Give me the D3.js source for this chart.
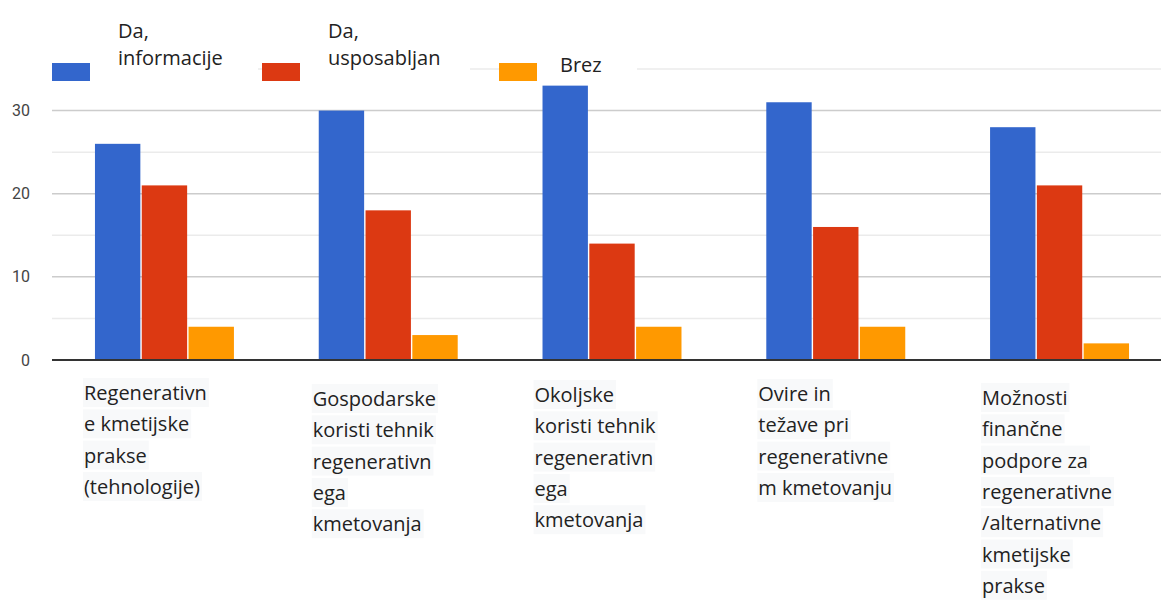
<!doctype html>
<html>
<head>
<meta charset="utf-8">
<title>Chart</title>
<script src="https://cdnjs.cloudflare.com/ajax/libs/d3/7.8.5/d3.min.js"></script>
<style>
    body { margin: 0; background: #fff; }
    svg text { font-family: "Open Sans", sans-serif; }
    .ytick { fill: #444; font-family: Roboto, Arial, sans-serif !important; font-size: 16px; }
    .xlab { fill: #222; font-size: 20px; }
    .leg { fill: #222; font-size: 20px; }
</style>
</head>
<body>
<div id="chart"></div>
<script>
// categories (multi-line tick labels)
var categories = ["Regenerativne kmetijske prakse", "Gospodarske koristi", "Okoljske koristi", "Ovire in težave", "Možnosti finančne podpore"];
var tickLines = [
    ["Regenerativn", "e kmetijske", "prakse", "(tehnologije)"],
    ["Gospodarske", "koristi tehnik", "regenerativn", "ega", "kmetovanja"],
    ["Okoljske", "koristi tehnik", "regenerativn", "ega", "kmetovanja"],
    ["Ovire in", "težave pri", "regenerativne", "m kmetovanju"],
    ["Možnosti", "finančne", "podpore za", "regenerativne", "/alternativne", "kmetijske", "prakse"]
];
var seriesNames = ["Da, informacije", "Da, usposabljan", "Brez"];
var legendLines = [["Da,", "informacije"], ["Da,", "usposabljan"], ["Brez"]];
var daInformacije = [26, 30, 33, 31, 28];
var daUsposabljan = [21, 18, 14, 16, 21];
var brez = [4, 3, 4, 4, 2];
var yTicks = [0, 10, 20, 30];
var yMinor = [5, 15, 25, 35];

var colors = ["#3366cc", "#dc3912", "#ff9900"];
var seriesValues = [daInformacije, daUsposabljan, brez];

var W = 1161, H = 601;
var svg = d3.select("#chart").append("svg").attr("width", W).attr("height", H);

var left = 52, right = 1161;
var y = d3.scaleLinear().domain([0, 35]).range([360, 69]);
var x = d3.scaleBand().domain(categories).range([left, 1172])
    .paddingInner(0.379).paddingOuter(0.192);
var xs = d3.scaleBand().domain(seriesNames).range([0, x.bandwidth()]).paddingInner(0.03);

// gridlines
svg.selectAll(".minor").data(yMinor).enter().append("line")
    .attr("x1", left).attr("x2", right)
    .attr("y1", function(d) { return y(d); }).attr("y2", function(d) { return y(d); })
    .attr("stroke", "#ebebeb").attr("stroke-width", 1.5);
svg.selectAll(".major").data(yTicks.slice(1)).enter().append("line")
    .attr("x1", left).attr("x2", right)
    .attr("y1", function(d) { return y(d); }).attr("y2", function(d) { return y(d); })
    .attr("stroke", "#cccccc").attr("stroke-width", 1.5);

// y labels
svg.selectAll(".ytick").data(yTicks).enter().append("text")
    .attr("class", "ytick")
    .attr("x", 30).attr("y", function(d) { return y(d); })
    .attr("text-anchor", "end").attr("dominant-baseline", "central")
    .text(function(d) { return d; });

// bars
var groups = svg.selectAll(".grp").data(categories).enter().append("g")
    .attr("transform", function(d) { return "translate(" + x(d) + ",0)"; });
groups.each(function(c, ci) {
    d3.select(this).selectAll("rect").data(seriesNames).enter().append("rect")
        .attr("x", function(s) { return xs(s); })
        .attr("width", xs.bandwidth())
        .attr("y", function(s, si) { return y(seriesValues[si][ci]); })
        .attr("height", function(s, si) { return y(0) - y(seriesValues[si][ci]); })
        .attr("fill", function(s, si) { return colors[si]; });
});

// baseline
svg.append("line").attr("x1", left).attr("x2", right)
    .attr("y1", y(0)).attr("y2", y(0))
    .attr("stroke", "#333").attr("stroke-width", 2);

// x labels with light boxes (the source labels sit slightly staggered)
var labelDx = [-12, -7, -9, -9, -9];
var labelDy = [0, 6, 2, 1, 5];
categories.forEach(function(c, ci) {
    var g = svg.append("g");
    var x0 = x(c) + labelDx[ci];
    tickLines[ci].forEach(function(line, li) {
        var top = 378 + labelDy[ci] + li * 31.3;
        var t = g.append("text").attr("class", "xlab")
            .attr("x", x0 + 1).attr("y", top + 14.5).attr("dominant-baseline", "central")
            .text(line);
        var w = t.node().getComputedTextLength();
        g.insert("rect", "text").attr("x", x0).attr("y", top)
            .attr("width", w + 3).attr("height", 29).attr("fill", "#f8f9fa");
    });
});

// legend
var legX = [52, 262, 499];
var legBoxW = [168, 170, 100];
seriesNames.forEach(function(s, si) {
    var lx = legX[si];
    svg.append("rect").attr("x", lx + 38).attr("y", 60)
        .attr("width", legBoxW[si]).attr("height", 22).attr("fill", "#fff");
    svg.append("rect").attr("x", lx).attr("y", 63).attr("width", 38).attr("height", 18)
        .attr("fill", colors[si]);
    var lines = legendLines[si];
    lines.forEach(function(line, li) {
        var ty = lines.length === 1 ? 64 : 30 + li * 27;
        svg.append("text").attr("class", "leg")
            .attr("x", lx + (lines.length === 1 ? 61 : 66)).attr("y", ty)
            .attr("dominant-baseline", "central")
            .text(line);
    });
});
</script>
</body>
</html>
